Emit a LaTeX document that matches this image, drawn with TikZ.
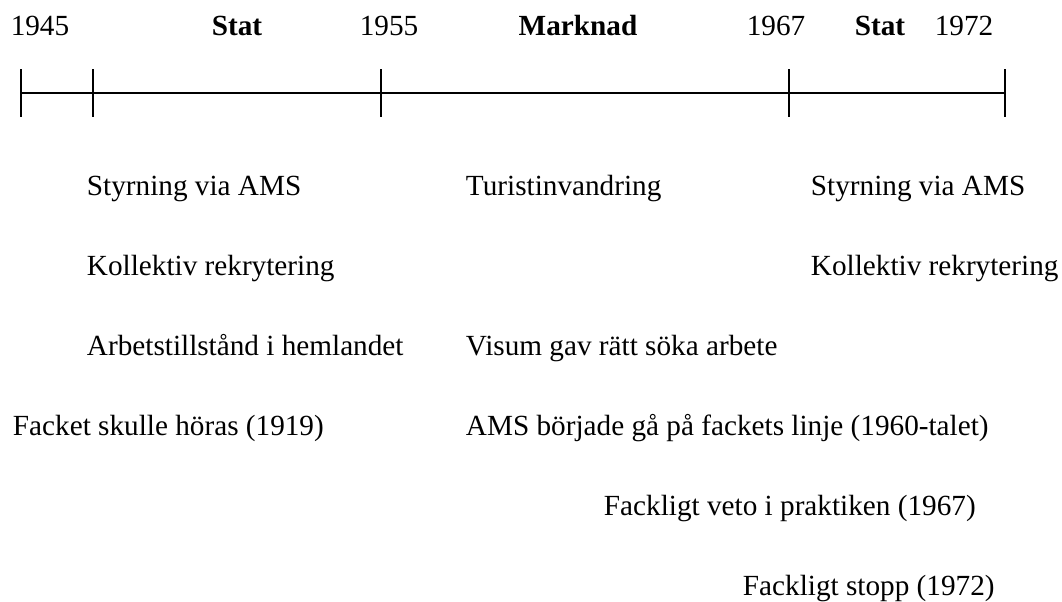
\documentclass[tikz,border=0pt]{standalone}
\usepackage{fontspec}
\setmainfont{Liberation Serif}
\usetikzlibrary{positioning}
\tikzset{lbl/.style={anchor=base west,inner sep=0pt,font=\fontsize{16.7}{20}\selectfont}}
\tikzset{yr/.style={anchor=base,inner sep=0pt,font=\fontsize{16.7}{20}\selectfont}}

\begin{document}
\begin{tikzpicture}[x=0.5714pt,y=-0.5714pt,line width=1.1pt]
    \useasboundingbox (0,0) rectangle (1062,601);

    % time axis
    \coordinate (t45) at (21,93);
    \coordinate (t48) at (93,93);
    \coordinate (t55) at (381,93);
    \coordinate (t67) at (789,93);
    \coordinate (t72) at (1005,93);
    \draw (t45) -- (t72);
    \foreach \t in {t45,t48,t55,t67,t72}
        \draw ([yshift=13.7pt]\t) -- ([yshift=-13.7pt]\t);

    % years and periods
    \node [yr] (y45) at (40,35) {1945};
    \node [yr] (p1) at (237,35) {\textbf{Stat}};
    \node [yr] (y55) at (389,35) {1955};
    \node [yr] (p2) at (578,35) {\textbf{Marknad}};
    \node [yr] (y67) at (776,35) {1967};
    \node [yr] (p3) at (880,35) {\textbf{Stat}};
    \node [yr] (y72) at (964,35) {1972};

    % first period
    \node [lbl] (a1) at (86,195) {Styrning via AMS};
    \node [lbl] (a2) at (86,275) {Kollektiv rekrytering};
    \node [lbl] (a3) at (86,355) {Arbetstillstånd i hemlandet};
    \node [lbl] (a4) at (12,435) {Facket skulle höras (1919)};

    % market period
    \node [lbl] (b1) at (465,195) {Turistinvandring};
    \node [lbl] (b2) at (465,355) {Visum gav rätt söka arbete};
    \node [lbl] (b3) at (465,435) {AMS började gå på fackets linje (1960-talet)};
    \node [lbl] (b4) at (603,515) {Fackligt veto i praktiken (1967)};
    \node [lbl] (b5) at (742,595) {Fackligt stopp (1972)};

    % last period
    \node [lbl] (c1) at (810,195) {Styrning via AMS};
    \node [lbl] (c2) at (810,275) {Kollektiv rekrytering};
\end{tikzpicture}
\end{document}
